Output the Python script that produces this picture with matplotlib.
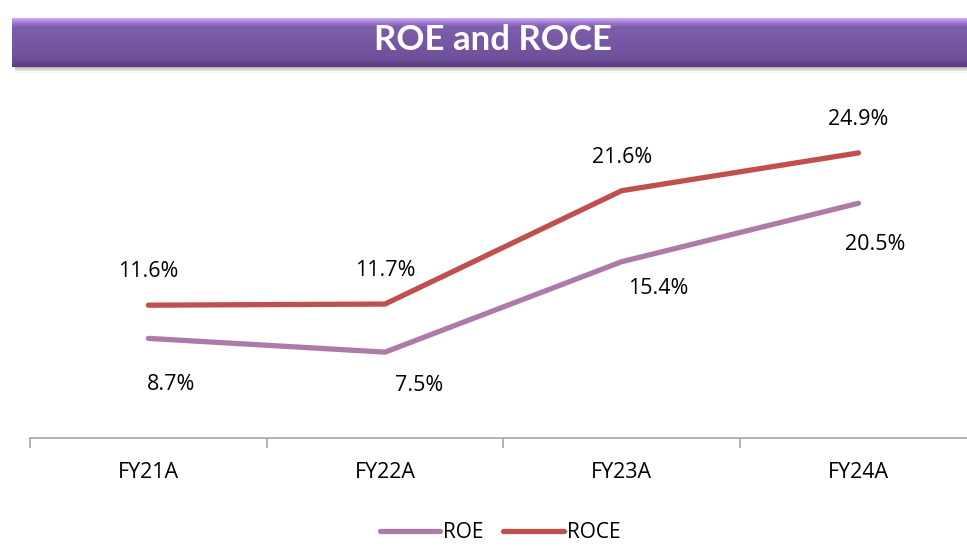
import numpy as np
import matplotlib
matplotlib.use("Agg")
import matplotlib.pyplot as plt
from matplotlib.patches import Rectangle

categories = ["FY21A", "FY22A", "FY23A", "FY24A"]
roe = [8.7, 7.5, 15.4, 20.5]
roce = [11.6, 11.7, 21.6, 24.9]
title = "ROE and ROCE"

plt.rcParams['font.family'] = ['Open Sans', 'DejaVu Sans']

W, H = 967, 546
fig = plt.figure(figsize=(W / 100, H / 100), dpi=100)

# title bar
bx0, bx1, by0, by1 = 12, 975, 18, 67
# shadow below the bar
for i, a in enumerate([0.18, 0.12, 0.07, 0.03]):
    fig.patches.append(Rectangle((bx0 / W + 0.003, 1 - (by1 + 1 + i * 1.5) / H),
                                 (bx1 - bx0) / W, 3 / H,
                                 transform=fig.transFigure, color='black', alpha=a, lw=0, zorder=-5))
bax = fig.add_axes([bx0 / W, 1 - by1 / H, (bx1 - bx0) / W, (by1 - by0) / H])
bax.set_zorder(2)
stops = [(0.0, (0xd0, 0xa8, 0xf8)), (0.10, (0x9a, 0x78, 0xcc)), (0.18, (0x7e, 0x5e, 0xac)),
         (0.85, (0x6e, 0x50, 0x9a)), (0.93, (0x60, 0x44, 0x88)), (1.0, (0x55, 0x3a, 0x78))]
n = 120
t = np.linspace(0, 1, n)
cols = np.zeros((n, 1, 3))
sp = np.array([s[0] for s in stops])
for ch in range(3):
    cols[:, 0, ch] = np.interp(t, sp, [s[1][ch] / 255 for s in stops])
bax.imshow(cols, aspect='auto', extent=[0, 1, 0, 1], origin='upper', interpolation='bilinear')
bax.set_xlim(0, 1); bax.set_ylim(0, 1)
bax.axis('off')
fig.text(493 / W, 1 - 40 / H, title, color='white', fontsize=25, fontweight='bold',
         ha='center', va='center', family=['Lato', 'DejaVu Sans'], zorder=10)

# main axes
ax_left, ax_bottom_px, cat_w = 30, 438, 236.7
ymax = 30
px_per_unit = 11.45
ax = fig.add_axes([ax_left / W, (H - ax_bottom_px) / H, 4 * cat_w / W, ymax * px_per_unit / H])
x = np.arange(len(categories))
ax.plot(x, roe, color='#AE7BA8', lw=3.8, solid_capstyle='round', solid_joinstyle='round', label='ROE')
ax.plot(x, roce, color='#C0504D', lw=3.8, solid_capstyle='round', solid_joinstyle='round', label='ROCE')
ax.set_xlim(-0.5, 3.5)
ax.set_ylim(0, ymax)
for s in ['top', 'left', 'right']:
    ax.spines[s].set_visible(False)
ax.spines['bottom'].set_color('#a6a6a6')
ax.spines['bottom'].set_linewidth(1.2)
ax.set_yticks([])
ax.set_xticks(x)
ax.set_xticklabels(categories, fontsize=15.5)
ax.tick_params(axis='x', which='major', length=0, pad=17)
ax.set_xticks(np.arange(-0.5, 4, 1), minor=True)
ax.tick_params(axis='x', which='minor', length=7, width=1.2, color='#a6a6a6', direction='out')

roe_label_dx = [16, 24.5, 26.5, 12]
roe_label_dy = [-33, -24, -19.5, -29.5]
for i, v in enumerate(roce):
    ax.annotate(f"{v:.1f}%", (x[i], v), xytext=(0, 24), textcoords='offset points',
                ha='center', va='center', fontsize=15.5)
for i, v in enumerate(roe):
    ax.annotate(f"{v:.1f}%", (x[i], v), xytext=(roe_label_dx[i], roe_label_dy[i]),
                textcoords='offset points', ha='center', va='center', fontsize=15.5)

fig.legend(loc='center', bbox_to_anchor=(500 / W, 1 - 533 / H), ncol=2, frameon=False,
           fontsize=15, handlelength=2.9, handletextpad=0.15, columnspacing=0.95)

fig.savefig('out.png', dpi=100)
